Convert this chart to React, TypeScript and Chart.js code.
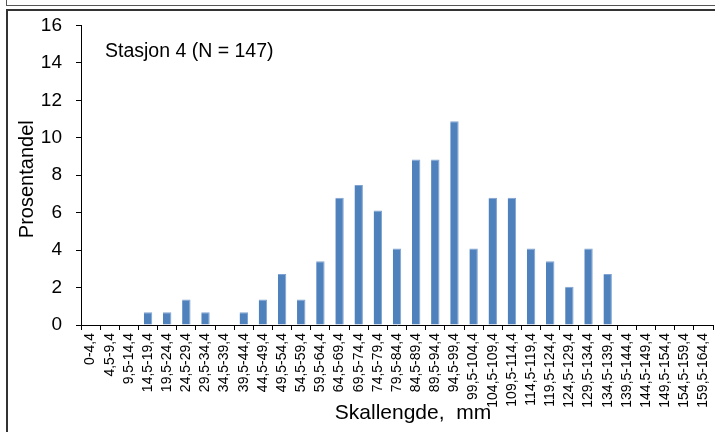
import { useEffect, useRef } from "react";
import { Chart, registerables } from "chart.js";

Chart.register(...registerables);

const categories = [
  "0-4,4", "4,5-9,4", "9,5-14,4", "14,5-19,4", "19,5-24,4", "24,5-29,4",
  "29,5-34,4", "34,5-39,4", "39,5-44,4", "44,5-49,4", "49,5-54,4", "54,5-59,4",
  "59,5-64,4", "64,5-69,4", "69,5-74,4", "74,5-79,4", "79,5-84,4", "84,5-89,4",
  "89,5-94,4", "94,5-99,4", "99,5-104,4", "104,5-109,4", "109,5-114,4",
  "114,5-119,4", "119,5-124,4", "124,5-129,4", "129,5-134,4", "134,5-139,4",
  "139,5-144,4", "144,5-149,4", "149,5-154,4", "154,5-159,4", "159,5-164,4",
];

const percentValues = [
  0, 0, 0, 0.68, 0.68, 1.36,
  0.68, 0, 0.68, 1.36, 2.72, 1.36,
  3.4, 6.8, 7.48, 6.12, 4.08, 8.84,
  8.84, 10.88, 4.08, 6.8, 6.8,
  4.08, 3.4, 2.04, 4.08, 2.72,
  0, 0, 0, 0, 0,
];

const yMin = 0;
const yMax = 16;
const yStep = 2;

const stationLabel = "Stasjon 4 (N = 147)";
const xTitle = "Skallengde,  mm";
const yTitle = "Prosentandel";

const FONT = '"Liberation Sans", Arial, Helvetica, sans-serif';

const textPlugin = {
  id: "customTexts",
  afterDraw(chart: any) {
    const { ctx, chartArea } = chart;
    ctx.save();
    ctx.fillStyle = "#000";
    ctx.font = `19.5px ${FONT}`;
    ctx.textBaseline = "middle";
    ctx.textAlign = "left";
    ctx.fillText(stationLabel, chartArea.left + 24, chartArea.top + 26);
    ctx.font = `21px ${FONT}`;
    ctx.textAlign = "center";
    ctx.fillText(xTitle, 413, 413);
    ctx.translate(27, (chartArea.top + chartArea.bottom) / 2 + 4);
    ctx.rotate(-Math.PI / 2);
    ctx.font = `20px ${FONT}`;
    ctx.fillText(yTitle, 0, 0);
    ctx.restore();
  },
};

export default function App() {
  const canvasRef = useRef<HTMLCanvasElement | null>(null);

  useEffect(() => {
    if (!canvasRef.current) return;
    const chart = new Chart(canvasRef.current, {
      type: "bar",
      data: {
        labels: categories,
        datasets: [
          {
            data: percentValues,
            backgroundColor: "#4F81BD",
            borderColor: "#7FA3D0",
            borderWidth: { top: 1, right: 1, left: 0, bottom: 0 },
            categoryPercentage: 1,
            barPercentage: 0.44,
          },
        ],
      },
      options: {
        animation: false,
        responsive: false,
        maintainAspectRatio: false,
        layout: { padding: { top: 25, right: 2, left: 0, bottom: 0 } },
        plugins: {
          legend: { display: false },
          tooltip: { enabled: false },
        },
        scales: {
          x: {
            grid: {
              drawOnChartArea: false,
              drawTicks: true,
              tickLength: 5,
              color: "#000",
              offset: true,
            },
            border: { color: "#000", width: 1 },
            ticks: {
              font: { family: FONT, size: 14 },
              color: "#000",
              minRotation: 90,
              maxRotation: 90,
              autoSkip: false,
              padding: 3,
            },
            afterFit: (s: any) => {
              s.height = 107;
              s.paddingLeft = 0;
              s.paddingRight = 0;
            },
          },
          y: {
            min: yMin,
            max: yMax,
            ticks: {
              stepSize: yStep,
              font: { family: FONT, size: 19 },
              color: "#000",
              padding: 14,
            },
            grid: {
              drawOnChartArea: false,
              drawTicks: true,
              tickLength: 5,
              color: "#000",
            },
            border: { color: "#000", width: 1 },
            afterFit: (s: any) => {
              s.width = 81;
            },
          },
        },
      },
      plugins: [textPlugin],
    });
    return () => chart.destroy();
  }, []);

  return (
    <div
      style={{
        position: "fixed",
        left: 0,
        top: 0,
        width: 715,
        height: 432,
        overflow: "hidden",
        background: "#fff",
      }}
    >
      <div
        style={{
          position: "absolute",
          left: 6,
          top: -10,
          width: 730,
          height: 16,
          boxSizing: "border-box",
          border: "1px solid #555",
        }}
      />
      <div
        style={{
          position: "absolute",
          left: 6,
          top: 9,
          width: 730,
          height: 450,
          boxSizing: "border-box",
          border: "2px solid #333",
        }}
      />
      <canvas
        ref={canvasRef}
        width={715}
        height={432}
        style={{ position: "absolute", left: 0, top: 0, width: 715, height: 432 }}
      />
    </div>
  );
}
